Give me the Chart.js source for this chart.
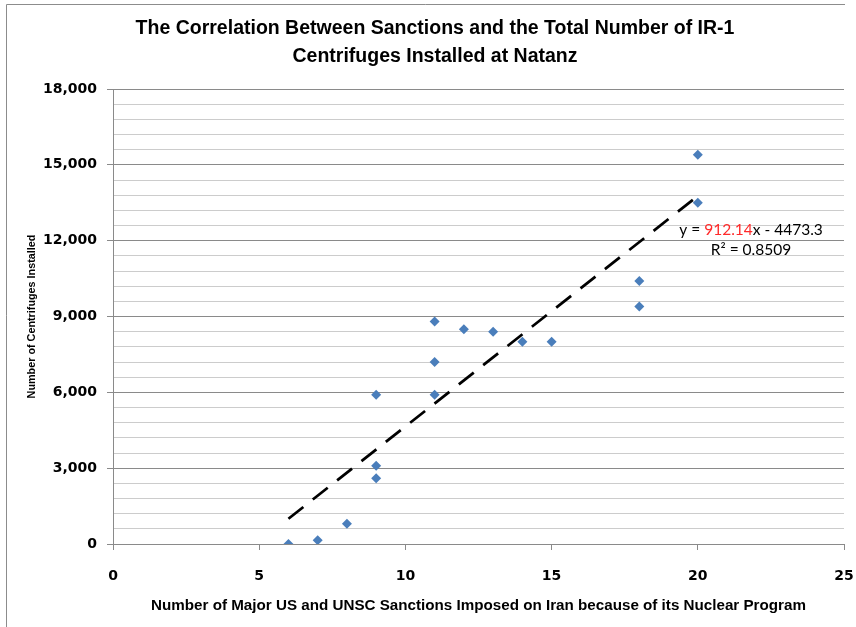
<!DOCTYPE html>
<html>
<head>
<meta charset="utf-8">
<script src="https://cdn.jsdelivr.net/npm/chart.js@4.4.1/dist/chart.umd.min.js"></script>
<style>
  html, body { margin: 0; padding: 0; background: #ffffff; }
  #wrap { width: 856px; height: 627px; position: relative; }
</style>
</head>
<body>
<div id="wrap"><canvas id="c" width="856" height="627"></canvas></div>
<script>
// ---- Data ----
const sanctionsCount = [6, 7, 8, 9, 9, 9, 11, 11, 11, 12, 13, 14, 15, 18, 18, 20, 20];
const centrifugesInstalled = [0, 150, 800, 2600, 3100, 5900, 5900, 7200, 8800, 8500, 8400, 8000, 8000, 10400, 9400, 15400, 13500];
const trendSlope = 912.14;
const trendIntercept = -4473.3;
const trendRSquared = 0.8509;
const trendXRange = [6, 20];
const xTickValues = [0, 5, 10, 15, 20, 25];
const yTickValues = [0, 3000, 6000, 9000, 12000, 15000, 18000];
const chartTitle = ['The Correlation Between Sanctions and the Total Number of IR-1', 'Centrifuges Installed at Natanz'];
const xAxisTitle = 'Number of Major US and UNSC Sanctions Imposed on Iran because of its Nuclear Program';
const yAxisTitle = 'Number of Centrifuges Installed';

const points = sanctionsCount.map((x, i) => ({ x: x, y: centrifugesInstalled[i] }));
const trendPoints = trendXRange.map(x => ({ x: x, y: trendSlope * x + trendIntercept }));

const MAJOR = '#8a8a8a';
const MINOR = '#cccccc';
const TICK_FONT = { family: "'DejaVu Sans', Verdana, sans-serif", weight: 'bold', size: 14 };
const TITLE_FAMILY = "'Liberation Sans', Arial, sans-serif";

const framePlugin = {
  id: 'frame',
  beforeDraw(chart) {
    const ctx = chart.ctx;
    ctx.save();
    ctx.strokeStyle = '#8c8c8c';
    ctx.lineWidth = 1;
    ctx.beginPath();
    ctx.moveTo(6.5, 627);
    ctx.lineTo(6.5, 4.5);
    ctx.lineTo(845, 4.5);
    ctx.stroke();
    ctx.restore();
  }
};

const equationPlugin = {
  id: 'equation',
  afterDatasetsDraw(chart) {
    const ctx = chart.ctx;
    const xs = chart.scales.x, ys = chart.scales.y;
    const cx = xs.getPixelForValue(21.82);
    const cy = ys.getPixelForValue(12420);
    ctx.save();
    ctx.font = "15.5px Lato, 'Liberation Sans', sans-serif";
    ctx.textBaseline = 'middle';
    ctx.textAlign = 'left';
    const parts = [
      { t: 'y = ', c: '#000000' },
      { t: trendSlope.toFixed(2), c: '#ff2a2a' },
      { t: 'x - ' + Math.abs(trendIntercept).toFixed(1), c: '#000000' }
    ];
    const total = parts.reduce((s, p) => s + ctx.measureText(p.t).width, 0);
    let x = cx - total / 2;
    parts.forEach(p => {
      ctx.fillStyle = p.c;
      ctx.fillText(p.t, x, cy);
      x += ctx.measureText(p.t).width;
    });
    ctx.fillStyle = '#000000';
    ctx.textAlign = 'center';
    ctx.fillText('R\u00B2 = ' + trendRSquared.toFixed(4), cx, cy + 20);
    ctx.restore();
  }
};

new Chart(document.getElementById('c'), {
  type: 'scatter',
  data: {
    datasets: [
      {
        type: 'line',
        label: 'Linear trend',
        data: trendPoints,
        borderColor: '#000000',
        borderWidth: 2.75,
        borderDash: [19, 12],
        borderCapStyle: 'butt',
        pointRadius: 0,
        fill: false,
        tension: 0,
        order: 0
      },
      {
        label: 'Centrifuges',
        data: points,
        pointStyle: 'rectRot',
        pointRadius: 5,
        pointHoverRadius: 5,
        pointBorderWidth: 0,
        backgroundColor: '#4a7ebb',
        borderColor: '#4a7ebb',
        order: 1
      }
    ]
  },
  options: {
    responsive: false,
    animation: false,
    events: [],
    layout: { padding: { top: 0, left: 26, right: 12, bottom: 10 } },
    plugins: {
      legend: { display: false },
      tooltip: { enabled: false },
      title: {
        display: true,
        text: chartTitle,
        color: '#000000',
        font: { family: TITLE_FAMILY, weight: 'bold', size: 19.5, lineHeight: 28 / 19.5 },
        padding: { top: 15, bottom: 18 }
      }
    },
    scales: {
      x: {
        type: 'linear',
        min: 0,
        max: 25,
        afterBuildTicks(scale) { scale.ticks = xTickValues.map(v => ({ value: v })); },
        afterFit(scale) { scale.height = 73; scale.paddingRight = 0; scale.paddingLeft = 0; },
        ticks: { color: '#000000', font: TICK_FONT, padding: 18, maxRotation: 0, autoSkip: false },
        grid: { drawOnChartArea: false, drawTicks: true, tickLength: 6, tickColor: MAJOR },
        border: { display: true, color: MAJOR, width: 1 },
        title: {
          display: true,
          text: xAxisTitle,
          color: '#000000',
          font: { family: TITLE_FAMILY, weight: 'bold', size: 15.2 },
          padding: { top: 0, bottom: 2.5 }
        }
      },
      y: {
        type: 'linear',
        min: 0,
        max: 18000,
        afterFit(scale) { scale.width = 87; },
        ticks: {
          stepSize: 600,
          autoSkip: false,
          color: '#000000',
          font: TICK_FONT,
          padding: 10,
          callback(v) { return yTickValues.includes(v) ? v.toLocaleString('en-US') : ''; }
        },
        grid: {
          tickLength: 6,
          color(ctx) { return ctx.tick && yTickValues.includes(ctx.tick.value) ? MAJOR : MINOR; },
          tickColor(ctx) { return ctx.tick && yTickValues.includes(ctx.tick.value) ? MAJOR : 'rgba(0,0,0,0)'; }
        },
        border: { display: true, color: MAJOR, width: 1 },
        title: {
          display: true,
          text: yAxisTitle,
          color: '#000000',
          font: { family: TITLE_FAMILY, weight: 'bold', size: 10.8 },
          padding: { top: -0.5, bottom: 0 }
        }
      }
    }
  },
  plugins: [framePlugin, equationPlugin]
});
</script>
</body>
</html>
